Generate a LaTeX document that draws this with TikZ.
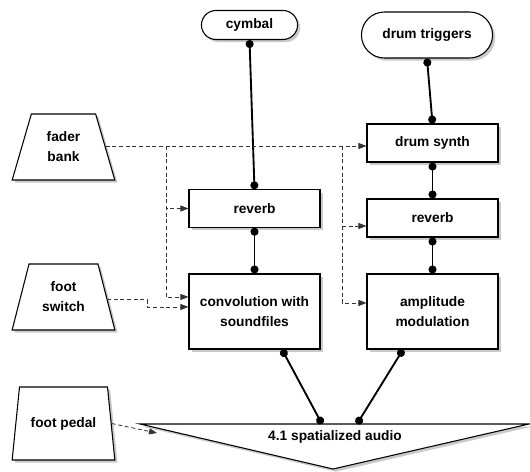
\documentclass[tikz,border=0pt]{standalone}
\usepackage{fontspec}
\setmainfont{Liberation Sans}
\usetikzlibrary{arrows.meta, shapes.geometric, shapes.misc, shadows, calc}
\tikzset{
  boxshadow/.style={drop shadow={shadow xshift=2pt, shadow yshift=-2pt, fill=black!35, opacity=0.6}},
  procbox/.style={draw, fill=white, minimum width=98.25pt, minimum height=#1,
      align=center, font=\fontsize{10.3}{15}\selectfont\bfseries, line width=0.8pt, boxshadow},
  srcbox/.style={draw, fill=white, rounded rectangle, minimum height=#1,
      align=center, font=\fontsize{10.3}{15}\selectfont\bfseries, line width=0.8pt, boxshadow},
  ctlbox/.style={draw, fill=white, trapezium, trapezium stretches=true,
      trapezium left angle=#1, trapezium right angle=#1, minimum width=77.25pt,
      align=center, font=\fontsize{10.3}{15}\selectfont\bfseries, line width=0.8pt, boxshadow},
  wire/.style={{Circle[length=6pt]}-{Circle[length=6pt]}, line width=1.4pt},
  ctrl/.style={-{Triangle[length=6pt, width=4.5pt]}, line width=0.6pt, black!80,
      dash pattern=on 3pt off 2pt},
}

\begin{document}
\begin{tikzpicture}[x=0.75pt, y=-0.75pt]
  \useasboundingbox (0,0) rectangle (530,471);
  % sources
  \node[srcbox=21.75pt, minimum width=78.75pt] (cymbal) at (249.5,25) {cymbal};
  \node[srcbox=34.5pt, minimum width=105pt] (trig) at (427,35) {drum triggers};
  % controllers
  \node[ctlbox=72, minimum height=49.5pt] (fader) at (63.5,147) {fader\\bank};
  \node[ctlbox=72, minimum height=49.5pt] (switch) at (63.5,297) {foot\\switch};
  \node[ctlbox=74, minimum height=54.75pt] (pedal) at (63.5,423.5) {foot pedal};
  % processing
  \node[procbox=28pt] (rev1) at (254.5,208.5) {reverb};
  \node[procbox=56.25pt] (conv) at (254.5,311.5) {convolution with\\soundfiles};
  \node[procbox=28.5pt] (synth) at (432.5,143) {drum synth};
  \node[procbox=28.5pt] (rev2) at (432.5,218) {reverb};
  \node[procbox=56.25pt] (amp) at (432.5,311.5) {amplitude\\modulation};
  % output
  \coordinate (tl) at (140,424);
  \coordinate (tr) at (529,424);
  \coordinate (tb) at (333,469);
  \draw[fill=white, line width=0.8pt, boxshadow] (tl) -- (tr) -- (tb) -- cycle;
  \node[font=\fontsize{10.3}{15}\selectfont\bfseries] (audio) at (335,437) {4.1 spatialized audio};
  \coordinate (au1) at (322,424);
  \coordinate (au2) at (357,424);
  \coordinate (auin) at (157,433);

  \draw[wire] (cymbal.south) -- (rev1.north);
  \draw[wire] (rev1.south) -- (conv.north);
  \draw[wire] (trig.south) -- (synth.north);
  \draw[wire] (synth.south) -- (rev2.north);
  \draw[wire] (rev2.south) -- (amp.north);
  \draw[wire] ([xshift=20.6pt]conv.south) -- (au1);
  \draw[wire] ([xshift=-22.1pt]amp.south) -- (au2);

  \coordinate (bus1) at (166,146);
  \coordinate (bus2) at (342,146);
  \draw[ctrl] ([yshift=0.75pt]fader.east) -- ([yshift=0.75pt]fader.east -| synth.west);
  \draw[ctrl] (bus1) |- (rev1.west);
  \draw[ctrl] (bus1) |- ([yshift=10.9pt]conv.west);
  \draw[ctrl] (bus2) |- ([yshift=-6pt]rev2.west);
  \draw[ctrl] (bus2) |- ([yshift=6.4pt]amp.west);
  \draw[ctrl] ([yshift=-2pt]switch.east) -- ++(40,0) |- ([yshift=3.4pt]conv.west);
  \draw[ctrl] (pedal.east) -- (auin);
\end{tikzpicture}
\end{document}
